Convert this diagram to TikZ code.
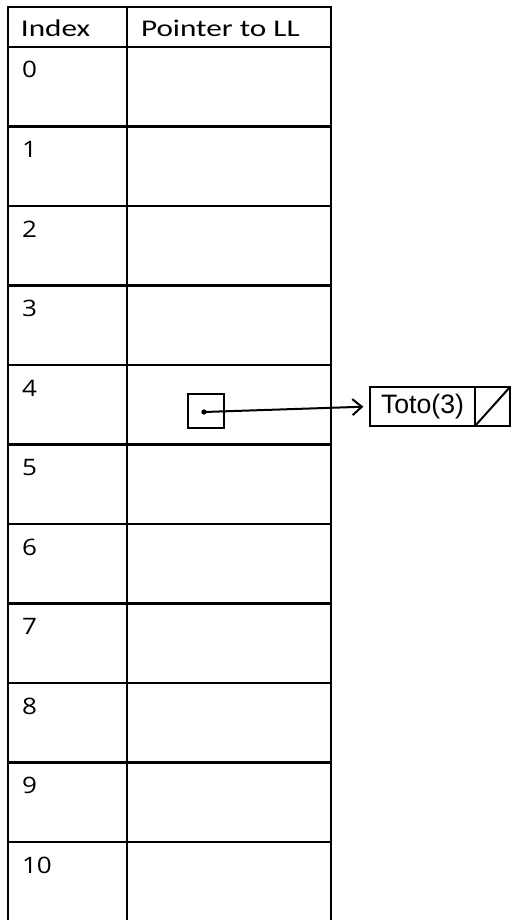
\documentclass[tikz,border=0pt]{standalone}
\usepackage{fontspec}
\setmainfont{Carlito}
\newfontfamily\numfont{Open Sans}[Numbers=Lining]
\newfontfamily\handfont{Liberation Sans}
\usetikzlibrary{positioning, arrows.meta}

\begin{document}
\begin{tikzpicture}[x=0.75pt, y=-0.75pt, node distance=0pt, every node/.style={inner sep=0pt, outer sep=0pt}]
\tikzstyle{cell}=[draw, line width=1.6pt, minimum height=59.6pt]
\tikzstyle{idxcell}=[cell, minimum width=89.25pt]
\tikzstyle{ptrcell}=[cell, minimum width=153pt]
\tikzstyle{txt}=[anchor=base west, font=\fontsize{18}{20}\selectfont]
\tikzstyle{num}=[anchor=base west, font=\numfont\fontsize{17}{19}\selectfont]
\tikzstyle{hand}=[draw, line width=1.5pt]
\useasboundingbox (0,0) rectangle (512,920);
% header row
\node[idxcell, minimum height=30pt, anchor=north west] (hidx) at (8,7) {};
\node[ptrcell, minimum height=30pt, right=of hidx] (hptr) {};
\node[txt] (tidx) at ([shift={(13,30)}]hidx.north west) {\scalebox{1.3}[1]{Index}};
\node[txt] (tptr) at ([shift={(14,30)}]hptr.north west) {\scalebox{1.3}[1]{Pointer to LL}};
% table rows
\foreach \i in {0,...,10} {
  \node[idxcell, anchor=north west] (i\i) at (8,47+79.5*\i) {};
  \node[ptrcell, right=of i\i] (p\i) {};
  \node[num] (n\i) at ([shift={(14,31)}]i\i.north west) {\scalebox{1.15}[1]{\i}};
}
% pointer to the list
\node[hand, minimum width=27pt, minimum height=25.5pt] (box) at (206,411) {};
\coordinate (dot) at (204,412);
\fill (dot) circle (2pt);
\node[hand, minimum width=78.75pt, minimum height=29.25pt, anchor=west, font=\handfont\fontsize{20}{22}\selectfont] (toto) at (370,406.5) {Toto(3)};
\node[hand, minimum width=26.25pt, minimum height=29.25pt, right=of toto] (nil) {};
\draw[line width=1.5pt] (nil.south west) -- (nil.north east);
\draw[line width=1.5pt, -{Straight Barb[length=7pt, width=12pt]}, shorten >=5pt] (dot) -- (toto.west);
\end{tikzpicture}
\end{document}
